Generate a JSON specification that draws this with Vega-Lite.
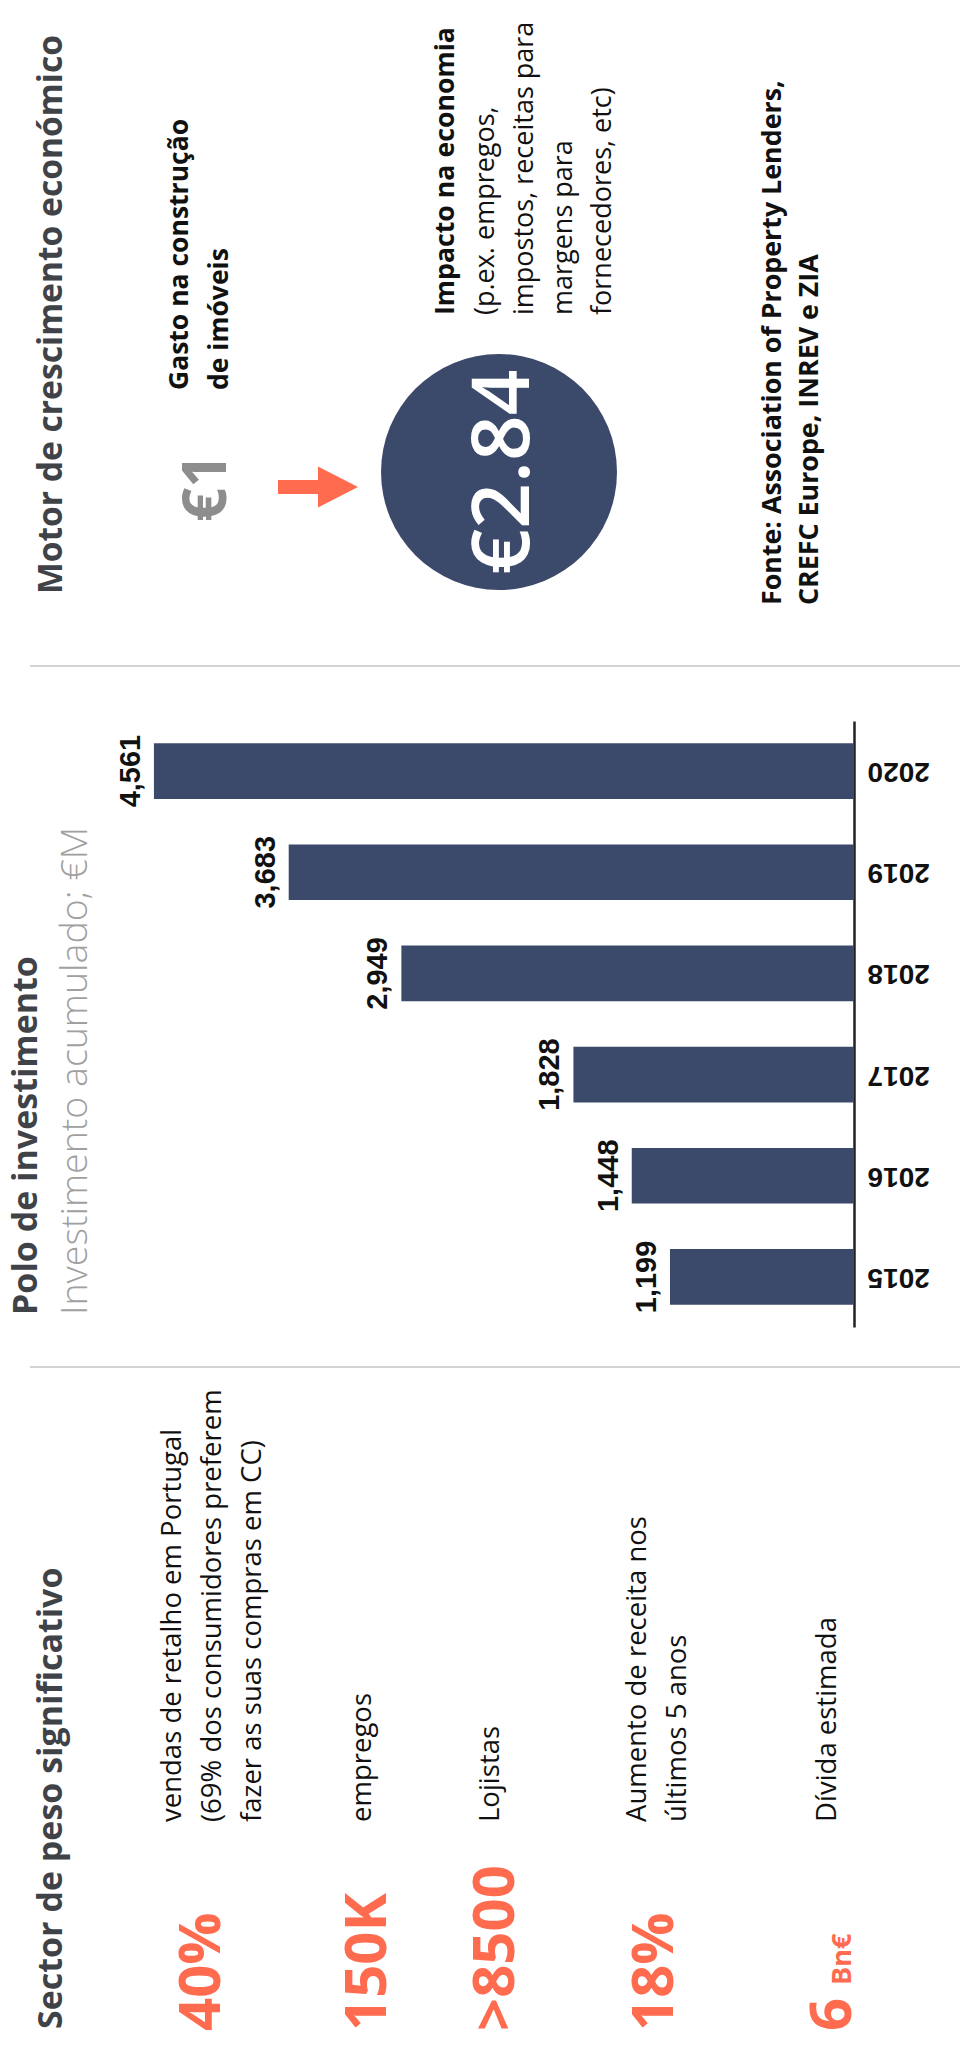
{
  "$schema": "https://vega.github.io/schema/vega-lite/v6.json",
  "width": 960,
  "height": 2045,
  "autosize": "none",
  "padding": 0,
  "background": "white",
  "config": {"view": {"stroke": null}},
  "layer": [
    {
      "data": {"values": [
        {"year": "2015", "value": 1199},
        {"year": "2016", "value": 1448},
        {"year": "2017", "value": 1828},
        {"year": "2018", "value": 2949},
        {"year": "2019", "value": 3683},
        {"year": "2020", "value": 4561}
      ]},
      "encoding": {
        "y": {"field": "year", "type": "nominal", "sort": "descending",
          "scale": {"range": [721, 1327], "paddingInner": 0.45, "paddingOuter": 0.22},
          "axis": {"orient": "right", "offset": -106, "title": null, "grid": false, "ticks": false,
            "domainColor": "#222222", "domainWidth": 2.5,
            "labelAngle": 180, "labelAlign": "right", "labelBaseline": "middle", "labelPadding": 13,
            "labelFont": "Liberation Sans", "labelFontWeight": "bold", "labelFontSize": 28, "labelColor": "#111111"}},
        "x": {"field": "value", "type": "quantitative",
          "scale": {"domain": [-690.6, 5564], "reverse": true, "nice": false, "zero": false}, "axis": null}
      },
      "layer": [
        {"mark": {"type": "bar", "color": "#3b4a6b"}},
        {"mark": {"type": "text", "angle": 270, "align": "center", "baseline": "bottom", "dy": -8,
          "font": "Liberation Sans", "fontWeight": "bold", "fontSize": 29, "color": "#111111"},
         "encoding": {"text": {"field": "value", "type": "quantitative", "format": ","}}}
      ]
    },
    {
      "layer": [
        {"data": {"values": [{"k": "sep1"}]},
         "mark": {"type": "rule", "color": "#d3d3d3", "strokeWidth": 2},
         "encoding": {
           "x": {"datum": 30, "type": "quantitative", "scale": {"domain": [0, 960], "nice": false, "zero": false}, "axis": null},
           "x2": {"datum": 960},
           "y": {"datum": 666, "type": "quantitative", "scale": {"domain": [0, 2045], "reverse": true, "nice": false, "zero": false}, "axis": null}}},
        {"data": {"values": [{"k": "sep2"}]},
         "mark": {"type": "rule", "color": "#d3d3d3", "strokeWidth": 2},
         "encoding": {
           "x": {"datum": 30, "type": "quantitative", "scale": {"domain": [0, 960], "nice": false, "zero": false}, "axis": null},
           "x2": {"datum": 960},
           "y": {"datum": 1367, "type": "quantitative", "scale": {"domain": [0, 2045], "reverse": true, "nice": false, "zero": false}, "axis": null}}},
        {"data": {"values": [{"t": "Motor de crescimento económico"}]},
         "mark": {"type": "text", "angle": 270, "align": "left", "baseline": "alphabetic", "font": "Open Sans", "fontWeight": "bold", "fontSize": 33.6, "color": "#3f4347"},
         "encoding": {
           "x": {"datum": 62, "type": "quantitative", "scale": {"domain": [0, 960], "nice": false, "zero": false}, "axis": null},
           "y": {"datum": 594, "type": "quantitative", "scale": {"domain": [0, 2045], "reverse": true, "nice": false, "zero": false}, "axis": null},
           "text": {"field": "t"}}},
        {"data": {"values": [{"t": "€1"}]},
         "mark": {"type": "text", "angle": 270, "align": "left", "baseline": "alphabetic", "font": "Open Sans", "fontWeight": "bold", "fontSize": 60, "color": "#8d8d8d"},
         "encoding": {
           "x": {"datum": 226, "type": "quantitative", "scale": {"domain": [0, 960], "nice": false, "zero": false}, "axis": null},
           "y": {"datum": 522, "type": "quantitative", "scale": {"domain": [0, 2045], "reverse": true, "nice": false, "zero": false}, "axis": null},
           "text": {"field": "t"}}},
        {"data": {"values": [{"k": "arrow"}]},
         "mark": {"type": "point", "shape": "M-1,-0.175L0,-0.175L0,-0.51L1,0L0,0.51L0,0.175L-1,0.175Z", "filled": true, "size": 6400, "color": "#ff6b4f", "opacity": 1, "strokeWidth": 0},
         "encoding": {
           "x": {"datum": 318, "type": "quantitative", "scale": {"domain": [0, 960], "nice": false, "zero": false}, "axis": null},
           "y": {"datum": 487, "type": "quantitative", "scale": {"domain": [0, 2045], "reverse": true, "nice": false, "zero": false}, "axis": null}}},
        {"data": {"values": [{"t": "Gasto na construção\nde imóveis"}]},
         "mark": {"type": "text", "angle": 270, "align": "left", "baseline": "alphabetic", "lineBreak": "\n", "lineHeight": 40, "font": "Open Sans", "fontWeight": "bold", "fontSize": 26.5, "color": "#111111"},
         "encoding": {
           "x": {"datum": 188, "type": "quantitative", "scale": {"domain": [0, 960], "nice": false, "zero": false}, "axis": null},
           "y": {"datum": 390, "type": "quantitative", "scale": {"domain": [0, 2045], "reverse": true, "nice": false, "zero": false}, "axis": null},
           "text": {"field": "t"}}},
        {"data": {"values": [{"k": "circle"}]},
         "mark": {"type": "point", "shape": "circle", "filled": true, "size": 55696, "color": "#3b4a6b", "opacity": 1, "strokeWidth": 0},
         "encoding": {
           "x": {"datum": 499, "type": "quantitative", "scale": {"domain": [0, 960], "nice": false, "zero": false}, "axis": null},
           "y": {"datum": 472, "type": "quantitative", "scale": {"domain": [0, 2045], "reverse": true, "nice": false, "zero": false}, "axis": null}}},
        {"data": {"values": [{"t": "€2.84"}]},
         "mark": {"type": "text", "angle": 270, "align": "center", "baseline": "alphabetic", "font": "Open Sans", "fontWeight": 600, "fontSize": 80, "color": "#ffffff"},
         "encoding": {
           "x": {"datum": 529, "type": "quantitative", "scale": {"domain": [0, 960], "nice": false, "zero": false}, "axis": null},
           "y": {"datum": 472, "type": "quantitative", "scale": {"domain": [0, 2045], "reverse": true, "nice": false, "zero": false}, "axis": null},
           "text": {"field": "t"}}},
        {"data": {"values": [{"t": "Impacto na economia"}]},
         "mark": {"type": "text", "angle": 270, "align": "left", "baseline": "alphabetic", "font": "Open Sans", "fontWeight": "bold", "fontSize": 26.7, "color": "#111111"},
         "encoding": {
           "x": {"datum": 454, "type": "quantitative", "scale": {"domain": [0, 960], "nice": false, "zero": false}, "axis": null},
           "y": {"datum": 315, "type": "quantitative", "scale": {"domain": [0, 2045], "reverse": true, "nice": false, "zero": false}, "axis": null},
           "text": {"field": "t"}}},
        {"data": {"values": [{"t": "(p.ex. empregos,\nimpostos, receitas para\nmargens para\nfornecedores, etc)"}]},
         "mark": {"type": "text", "angle": 270, "align": "left", "baseline": "alphabetic", "lineBreak": "\n", "lineHeight": 39, "font": "Open Sans", "fontSize": 27, "color": "#111111"},
         "encoding": {
           "x": {"datum": 494, "type": "quantitative", "scale": {"domain": [0, 960], "nice": false, "zero": false}, "axis": null},
           "y": {"datum": 315, "type": "quantitative", "scale": {"domain": [0, 2045], "reverse": true, "nice": false, "zero": false}, "axis": null},
           "text": {"field": "t"}}},
        {"data": {"values": [{"t": "Fonte: Association of Property Lenders,\nCREFC Europe, INREV e ZIA"}]},
         "mark": {"type": "text", "angle": 270, "align": "left", "baseline": "alphabetic", "lineBreak": "\n", "lineHeight": 37, "font": "Open Sans", "fontWeight": "bold", "fontSize": 26.8, "color": "#111111"},
         "encoding": {
           "x": {"datum": 781, "type": "quantitative", "scale": {"domain": [0, 960], "nice": false, "zero": false}, "axis": null},
           "y": {"datum": 605, "type": "quantitative", "scale": {"domain": [0, 2045], "reverse": true, "nice": false, "zero": false}, "axis": null},
           "text": {"field": "t"}}},
        {"data": {"values": [{"t": "Polo de investimento"}]},
         "mark": {"type": "text", "angle": 270, "align": "left", "baseline": "alphabetic", "font": "Open Sans", "fontWeight": "bold", "fontSize": 34, "color": "#3f4347"},
         "encoding": {
           "x": {"datum": 37, "type": "quantitative", "scale": {"domain": [0, 960], "nice": false, "zero": false}, "axis": null},
           "y": {"datum": 1315, "type": "quantitative", "scale": {"domain": [0, 2045], "reverse": true, "nice": false, "zero": false}, "axis": null},
           "text": {"field": "t"}}},
        {"data": {"values": [{"t": "Investimento acumulado; €M"}]},
         "mark": {"type": "text", "angle": 270, "align": "left", "baseline": "alphabetic", "font": "Open Sans", "fontWeight": 300, "fontSize": 37.5, "color": "#a0a0a0"},
         "encoding": {
           "x": {"datum": 87, "type": "quantitative", "scale": {"domain": [0, 960], "nice": false, "zero": false}, "axis": null},
           "y": {"datum": 1315, "type": "quantitative", "scale": {"domain": [0, 2045], "reverse": true, "nice": false, "zero": false}, "axis": null},
           "text": {"field": "t"}}},
        {"data": {"values": [{"t": "Sector de peso significativo"}]},
         "mark": {"type": "text", "angle": 270, "align": "left", "baseline": "alphabetic", "font": "Open Sans", "fontWeight": "bold", "fontSize": 34, "color": "#3f4347"},
         "encoding": {
           "x": {"datum": 62, "type": "quantitative", "scale": {"domain": [0, 960], "nice": false, "zero": false}, "axis": null},
           "y": {"datum": 2029, "type": "quantitative", "scale": {"domain": [0, 2045], "reverse": true, "nice": false, "zero": false}, "axis": null},
           "text": {"field": "t"}}},
        {"data": {"values": [{"t": "40%"}]},
         "mark": {"type": "text", "angle": 270, "align": "left", "baseline": "alphabetic", "font": "Open Sans", "fontWeight": "bold", "fontSize": 58, "color": "#ff6b4f"},
         "encoding": {
           "x": {"datum": 220, "type": "quantitative", "scale": {"domain": [0, 960], "nice": false, "zero": false}, "axis": null},
           "y": {"datum": 2031, "type": "quantitative", "scale": {"domain": [0, 2045], "reverse": true, "nice": false, "zero": false}, "axis": null},
           "text": {"field": "t"}}},
        {"data": {"values": [{"t": "150K"}]},
         "mark": {"type": "text", "angle": 270, "align": "left", "baseline": "alphabetic", "font": "Open Sans", "fontWeight": "bold", "fontSize": 58, "color": "#ff6b4f"},
         "encoding": {
           "x": {"datum": 386, "type": "quantitative", "scale": {"domain": [0, 960], "nice": false, "zero": false}, "axis": null},
           "y": {"datum": 2031, "type": "quantitative", "scale": {"domain": [0, 2045], "reverse": true, "nice": false, "zero": false}, "axis": null},
           "text": {"field": "t"}}},
        {"data": {"values": [{"t": ">8500"}]},
         "mark": {"type": "text", "angle": 270, "align": "left", "baseline": "alphabetic", "font": "Open Sans", "fontWeight": "bold", "fontSize": 58, "color": "#ff6b4f"},
         "encoding": {
           "x": {"datum": 514, "type": "quantitative", "scale": {"domain": [0, 960], "nice": false, "zero": false}, "axis": null},
           "y": {"datum": 2031, "type": "quantitative", "scale": {"domain": [0, 2045], "reverse": true, "nice": false, "zero": false}, "axis": null},
           "text": {"field": "t"}}},
        {"data": {"values": [{"t": "18%"}]},
         "mark": {"type": "text", "angle": 270, "align": "left", "baseline": "alphabetic", "font": "Open Sans", "fontWeight": "bold", "fontSize": 58, "color": "#ff6b4f"},
         "encoding": {
           "x": {"datum": 673, "type": "quantitative", "scale": {"domain": [0, 960], "nice": false, "zero": false}, "axis": null},
           "y": {"datum": 2031, "type": "quantitative", "scale": {"domain": [0, 2045], "reverse": true, "nice": false, "zero": false}, "axis": null},
           "text": {"field": "t"}}},
        {"data": {"values": [{"t": "6"}]},
         "mark": {"type": "text", "angle": 270, "align": "left", "baseline": "alphabetic", "font": "Open Sans", "fontWeight": "bold", "fontSize": 58, "color": "#ff6b4f"},
         "encoding": {
           "x": {"datum": 851, "type": "quantitative", "scale": {"domain": [0, 960], "nice": false, "zero": false}, "axis": null},
           "y": {"datum": 2031, "type": "quantitative", "scale": {"domain": [0, 2045], "reverse": true, "nice": false, "zero": false}, "axis": null},
           "text": {"field": "t"}}},
        {"data": {"values": [{"t": "Bn€"}]},
         "mark": {"type": "text", "angle": 270, "align": "left", "baseline": "alphabetic", "font": "Open Sans", "fontWeight": "bold", "fontSize": 27, "color": "#ff6b4f"},
         "encoding": {
           "x": {"datum": 851, "type": "quantitative", "scale": {"domain": [0, 960], "nice": false, "zero": false}, "axis": null},
           "y": {"datum": 1985, "type": "quantitative", "scale": {"domain": [0, 2045], "reverse": true, "nice": false, "zero": false}, "axis": null},
           "text": {"field": "t"}}},
        {"data": {"values": [{"t": "vendas de retalho em Portugal\n(69% dos consumidores preferem\nfazer as suas compras em CC)"}]},
         "mark": {"type": "text", "angle": 270, "align": "left", "baseline": "alphabetic", "lineBreak": "\n", "lineHeight": 40, "font": "Open Sans", "fontSize": 27.5, "color": "#111111"},
         "encoding": {
           "x": {"datum": 181, "type": "quantitative", "scale": {"domain": [0, 960], "nice": false, "zero": false}, "axis": null},
           "y": {"datum": 1822, "type": "quantitative", "scale": {"domain": [0, 2045], "reverse": true, "nice": false, "zero": false}, "axis": null},
           "text": {"field": "t"}}},
        {"data": {"values": [{"t": "empregos"}]},
         "mark": {"type": "text", "angle": 270, "align": "left", "baseline": "alphabetic", "font": "Open Sans", "fontSize": 27.5, "color": "#111111"},
         "encoding": {
           "x": {"datum": 371, "type": "quantitative", "scale": {"domain": [0, 960], "nice": false, "zero": false}, "axis": null},
           "y": {"datum": 1822, "type": "quantitative", "scale": {"domain": [0, 2045], "reverse": true, "nice": false, "zero": false}, "axis": null},
           "text": {"field": "t"}}},
        {"data": {"values": [{"t": "Lojistas"}]},
         "mark": {"type": "text", "angle": 270, "align": "left", "baseline": "alphabetic", "font": "Open Sans", "fontSize": 27.5, "color": "#111111"},
         "encoding": {
           "x": {"datum": 499, "type": "quantitative", "scale": {"domain": [0, 960], "nice": false, "zero": false}, "axis": null},
           "y": {"datum": 1822, "type": "quantitative", "scale": {"domain": [0, 2045], "reverse": true, "nice": false, "zero": false}, "axis": null},
           "text": {"field": "t"}}},
        {"data": {"values": [{"t": "Aumento de receita nos\núltimos 5 anos"}]},
         "mark": {"type": "text", "angle": 270, "align": "left", "baseline": "alphabetic", "lineBreak": "\n", "lineHeight": 40, "font": "Open Sans", "fontSize": 27.5, "color": "#111111"},
         "encoding": {
           "x": {"datum": 646, "type": "quantitative", "scale": {"domain": [0, 960], "nice": false, "zero": false}, "axis": null},
           "y": {"datum": 1822, "type": "quantitative", "scale": {"domain": [0, 2045], "reverse": true, "nice": false, "zero": false}, "axis": null},
           "text": {"field": "t"}}},
        {"data": {"values": [{"t": "Dívida estimada"}]},
         "mark": {"type": "text", "angle": 270, "align": "left", "baseline": "alphabetic", "font": "Open Sans", "fontSize": 27.5, "color": "#111111"},
         "encoding": {
           "x": {"datum": 836, "type": "quantitative", "scale": {"domain": [0, 960], "nice": false, "zero": false}, "axis": null},
           "y": {"datum": 1822, "type": "quantitative", "scale": {"domain": [0, 2045], "reverse": true, "nice": false, "zero": false}, "axis": null},
           "text": {"field": "t"}}}
      ]
    }
  ],
  "resolve": {"scale": {"x": "independent", "y": "independent"}}
}
